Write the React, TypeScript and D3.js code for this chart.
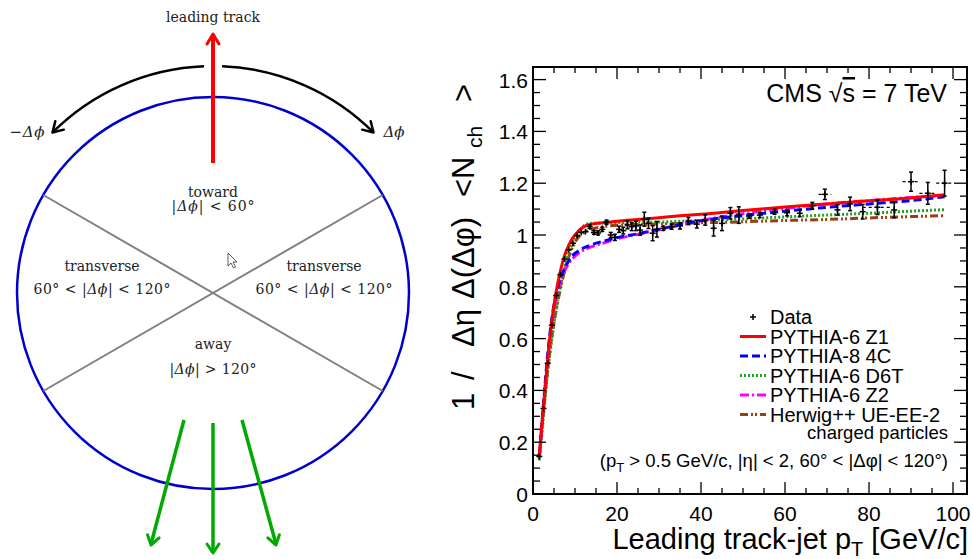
import React from "react";
import * as d3 from "d3";

// ---------- data ----------
const dataX = [1.5, 2.5, 3.5, 4.5, 5.5, 6.5, 7.5, 8.5, 9.5, 10.5, 11.5, 12.5, 13.5, 14.5, 15.5, 16.5, 17.5, 18.5, 19.5, 20.5, 21.5, 22.5, 23.5, 24.5, 25.5, 26.5, 27.5, 28.5, 29.5, 31, 33, 35, 37, 39, 41, 43, 45, 47, 49, 51.5, 54, 57.5, 60.5, 63.5, 66.5, 69.5, 72.5, 75.5, 78.5, 82, 86, 90, 94, 98];
const dataY = [0.145, 0.33, 0.505, 0.652, 0.766, 0.847, 0.907, 0.943, 0.968, 0.998, 1.01, 1.013, 1.032, 1.01, 1.008, 1.022, 1.049, 1.0, 0.991, 1.022, 1.017, 1.039, 1.032, 1.035, 1.019, 1.061, 1.045, 1.007, 1.022, 1.026, 1.032, 1.035, 1.054, 1.042, 1.058, 1.026, 1.045, 1.084, 1.077, 1.073, 1.077, 1.09, 1.086, 1.084, 1.113, 1.157, 1.097, 1.12, 1.09, 1.107, 1.097, 1.206, 1.161, 1.2];
const dataErr = [0.004, 0.004, 0.004, 0.004, 0.004, 0.004, 0.004, 0.005, 0.005, 0.005, 0.005, 0.006, 0.007, 0.007, 0.008, 0.008, 0.008, 0.01, 0.012, 0.012, 0.013, 0.015, 0.015, 0.018, 0.02, 0.027, 0.02, 0.029, 0.03, 0.008, 0.01, 0.012, 0.014, 0.015, 0.02, 0.03, 0.028, 0.022, 0.032, 0.008, 0.01, 0.01, 0.012, 0.013, 0.013, 0.02, 0.02, 0.026, 0.028, 0.028, 0.03, 0.037, 0.042, 0.05];
const dataXErr = [0, 0, 0, 0, 0, 0, 0, 0, 0, 0, 0, 0, 0, 0, 0, 0, 0, 0, 0, 0, 0, 0, 0, 0, 0, 0, 0, 0, 0, 0, 0, 0, 0, 0, 0, 0, 0, 0, 0, 0, 0, 0, 0, 0, 0, 1.5, 0, 0, 0, 3.5, 0, 2, 2, 2];

const modelX = [1.5, 2.5, 3.5, 4.5, 5.5, 6.5, 7.5, 8.5, 9.5, 10.5, 11.5, 12.5, 14, 17, 20, 25, 30, 35, 40, 50, 60, 70, 80, 90, 98];
const z1Y = [0.15, 0.34, 0.52, 0.67, 0.78, 0.86, 0.92, 0.96, 0.99, 1.01, 1.025, 1.035, 1.042, 1.048, 1.053, 1.06, 1.067, 1.074, 1.08, 1.095, 1.108, 1.12, 1.132, 1.143, 1.155];
const c4Y = [0.15, 0.35, 0.54, 0.68, 0.77, 0.83, 0.87, 0.9, 0.922, 0.935, 0.946, 0.953, 0.963, 0.977, 0.99, 1.005, 1.022, 1.04, 1.055, 1.075, 1.092, 1.107, 1.12, 1.133, 1.148];
const d6tY = [0.13, 0.3, 0.47, 0.6, 0.71, 0.8, 0.87, 0.93, 0.97, 1.0, 1.025, 1.04, 1.045, 1.047, 1.048, 1.049, 1.05, 1.053, 1.056, 1.062, 1.07, 1.077, 1.084, 1.092, 1.098];
const z2Y = [0.14, 0.34, 0.52, 0.66, 0.76, 0.82, 0.86, 0.89, 0.91, 0.925, 0.937, 0.945, 0.955, 0.97, 0.985, 1.003, 1.02, 1.038, 1.056, 1.082, 1.103, 1.12, 1.133, 1.145, 1.153];
const herwigY = [0.14, 0.32, 0.48, 0.61, 0.71, 0.79, 0.86, 0.915, 0.955, 0.985, 1.003, 1.013, 1.023, 1.033, 1.038, 1.041, 1.043, 1.045, 1.047, 1.051, 1.056, 1.06, 1.066, 1.071, 1.075];

const xTicks = [0, 20, 40, 60, 80, 100];
const yTicks = [0, 0.2, 0.4, 0.6, 0.8, 1, 1.2, 1.4, 1.6];
const yTickLabels = ["0", "0.2", "0.4", "0.6", "0.8", "1", "1.2", "1.4", "1.6"];

const seriesNames = ["PYTHIA-6 Z1", "PYTHIA-8 4C", "PYTHIA-6 D6T", "PYTHIA-6 Z2", "Herwig++ UE-EE-2"];
const seriesColors = ["#ff0000", "#0000ff", "#22a022", "#ff00ff", "#9a4010"];
const seriesDash = ["", "8,4", "2,2", "9,3,2,3", "8,3,2,2,2,3"];
const seriesY = [z1Y, c4Y, d6tY, z2Y, herwigY];

// ---------- layout ----------
const PL = 533, PR = 967, PT = 67, PB = 494;
const sans = "Liberation Sans, Arial, sans-serif";
const serif = "DejaVu Serif, serif";

function arrowHead(tipX: number, tipY: number, angle: number, len: number, half: number) {
  const bx = tipX - len * Math.cos(angle);
  const by = tipY - len * Math.sin(angle);
  const px = -Math.sin(angle), py = Math.cos(angle);
  return `M${bx + px * half},${by + py * half} L${tipX},${tipY} L${bx - px * half},${by - py * half}`;
}

function Diagram() {
  const cx = 213, cy = 293, r = 196;
  const ang = Math.PI / 6;
  const lx = r * Math.cos(ang), ly = r * Math.sin(ang);
  const ar = 227;
  const a0R = Math.atan2(-227, 9), a1R = -Math.PI / 4;
  const a0L = Math.atan2(-227, -9), a1L = -3 * Math.PI / 4;
  const pt = (a: number) => [cx + ar * Math.cos(a), cy + ar * Math.sin(a)];
  const [rsx, rsy] = pt(a0R), [rex, rey] = pt(a1R);
  const [lsx, lsy] = pt(a0L), [lex, ley] = pt(a1L);
  const green = "#00aa00";
  const greenArrows = [
    [184, 420, 151, 544],
    [213, 423, 213, 552],
    [242, 420, 276, 544],
  ];
  const mathT = (parts: [string, boolean][]) =>
    parts.map((p, i) => (
      <tspan key={i} fontStyle={p[1] ? "italic" : "normal"}>{p[0]}</tspan>
    ));
  const tcol = "#222";
  return (
    <g fontFamily={serif} fill={tcol}>
      <circle cx={cx} cy={cy} r={r} fill="none" stroke="#0000cc" strokeWidth={2.5} />
      <line x1={cx - lx} y1={cy - ly} x2={cx + lx} y2={cy + ly} stroke="#808080" strokeWidth={2} />
      <line x1={cx - lx} y1={cy + ly} x2={cx + lx} y2={cy - ly} stroke="#808080" strokeWidth={2} />
      {/* leading track arrow */}
      <line x1={cx} y1={163} x2={cx} y2={36} stroke="#ff0000" strokeWidth={4} />
      <path d={arrowHead(cx, 34, -Math.PI / 2, 10, 6)} fill="none" stroke="#ff0000" strokeWidth={3} strokeLinecap="round" strokeLinejoin="round" />
      <text x={cx} y={22} textAnchor="middle" fontSize={14}>leading track</text>
      {/* delta phi arcs */}
      <path d={`M${rsx},${rsy} A${ar},${ar} 0 0 1 ${rex},${rey}`} fill="none" stroke="#000" strokeWidth={2.5} />
      <path d={arrowHead(rex, rey, a1R + Math.PI / 2, 10, 6)} fill="none" stroke="#000" strokeWidth={2.5} strokeLinecap="round" strokeLinejoin="round" />
      <path d={`M${lsx},${lsy} A${ar},${ar} 0 0 0 ${lex},${ley}`} fill="none" stroke="#000" strokeWidth={2.5} />
      <path d={arrowHead(lex, ley, a1L - Math.PI / 2, 10, 6)} fill="none" stroke="#000" strokeWidth={2.5} strokeLinecap="round" strokeLinejoin="round" />
      <text x={27} y={137} textAnchor="middle" fontSize={15} textLength={35} lengthAdjust="spacing">{mathT([["\u2212", false], ["\u0394\u03d5", true]])}</text>
      <text x={394} y={137} textAnchor="middle" fontSize={15}>{mathT([["\u0394\u03d5", true]])}</text>
      {/* region labels */}
      <text x={cx} y={197} textAnchor="middle" fontSize={14}>toward</text>
      <text x={cx} y={211} textAnchor="middle" fontSize={14} textLength={83} lengthAdjust="spacing">{mathT([["|", false], ["\u0394\u03d5", true], ["| < 60\u00b0", false]])}</text>
      <text x={102} y={271} textAnchor="middle" fontSize={14}>transverse</text>
      <text x={102} y={294} textAnchor="middle" fontSize={14} textLength={137} lengthAdjust="spacing">{mathT([["60\u00b0 < |", false], ["\u0394\u03d5", true], ["| < 120\u00b0", false]])}</text>
      <text x={324} y={271} textAnchor="middle" fontSize={14}>transverse</text>
      <text x={324} y={294} textAnchor="middle" fontSize={14} textLength={137} lengthAdjust="spacing">{mathT([["60\u00b0 < |", false], ["\u0394\u03d5", true], ["| < 120\u00b0", false]])}</text>
      <text x={cx} y={349} textAnchor="middle" fontSize={14}>away</text>
      <text x={cx} y={374} textAnchor="middle" fontSize={14} textLength={87} lengthAdjust="spacing">{mathT([["|", false], ["\u0394\u03d5", true], ["| > 120\u00b0", false]])}</text>
      {/* cursor */}
      <path d="M228,253 L228,266 L231,263 L233.5,268 L235.5,267 L233,262 L237,262 Z" fill="#fff" stroke="#333" strokeWidth={0.8} />
      {/* away-side arrows */}
      {greenArrows.map((a, i) => {
        const angle = Math.atan2(a[3] - a[1], a[2] - a[0]);
        return (
          <g key={i}>
            <line x1={a[0]} y1={a[1]} x2={a[2]} y2={a[3]} stroke={green} strokeWidth={3.5} />
            <path d={arrowHead(a[2], a[3] + 1, angle, 9, 6)} fill="none" stroke={green} strokeWidth={3} strokeLinecap="round" strokeLinejoin="round" />
          </g>
        );
      })}
    </g>
  );
}

function Plot() {
  const x = d3.scaleLinear().domain([0, 103.33]).range([PL, PR]);
  const y = d3.scaleLinear().domain([0, 1.6487]).range([PB, PT]);
  const line = d3.line<[number, number]>().x((d) => x(d[0])).y((d) => y(d[1])).curve(d3.curveMonotoneX);
  const xMinor = d3.range(0, 101, 5);
  const yMinor = d3.range(0, 1.65, 0.05);
  const drawOrder = [4, 2, 3, 1, 0];
  const legendY0 = 317, legendStep = 19.5;
  return (
    <g>
      <defs>
        <clipPath id="plotclip">
          <rect x={PL} y={PT} width={PR - PL} height={PB - PT} />
        </clipPath>
      </defs>
      {/* model curves */}
      <g clipPath="url(#plotclip)">
        {drawOrder.map((si) => (
          <path
            key={si}
            d={line(modelX.map((v, i) => [v, seriesY[si][i]]) as [number, number][]) || ""}
            fill="none"
            stroke={seriesColors[si]}
            strokeWidth={3}
            strokeDasharray={seriesDash[si] || undefined}
          />
        ))}
        {/* data */}
        {dataX.map((xv, i) => {
          const px = x(xv), py = y(dataY[i]);
          const e1 = y(dataY[i] + dataErr[i]), e2 = y(dataY[i] - dataErr[i]);
          return (
            <g key={i} stroke="#000">
              {dataXErr[i] > 0 && (
                <line x1={x(xv - dataXErr[i])} x2={x(xv + dataXErr[i])} y1={py} y2={py} strokeWidth={1.2} strokeDasharray="3,3" />
              )}
              <line x1={px} x2={px} y1={e1} y2={e2} strokeWidth={1.5} />
              {dataErr[i] > 0.006 && (
                <>
                  <line x1={px - 2} x2={px + 2} y1={e1} y2={e1} strokeWidth={1.5} />
                  <line x1={px - 2} x2={px + 2} y1={e2} y2={e2} strokeWidth={1.5} />
                </>
              )}
              <line x1={px - 3} x2={px + 3} y1={py} y2={py} strokeWidth={1.5} />
              <line x1={px} x2={px} y1={py - 3} y2={py + 3} strokeWidth={1.5} />
            </g>
          );
        })}
      </g>
      {/* frame */}
      <rect x={PL} y={PT} width={PR - PL} height={PB - PT} fill="none" stroke="#000" strokeWidth={2} />
      {/* ticks */}
      <g stroke="#000" strokeWidth={1.3}>
        {xMinor.map((t) => {
          const major = t % 20 === 0;
          const L = major ? 12 : 6;
          return (
            <g key={"x" + t}>
              <line x1={x(t)} x2={x(t)} y1={PB} y2={PB - L} />
              <line x1={x(t)} x2={x(t)} y1={PT} y2={PT + L} />
            </g>
          );
        })}
        {yMinor.map((t, i) => {
          const major = i % 4 === 0;
          const L = major ? 13 : 7;
          return (
            <g key={"y" + i}>
              <line x1={PL} x2={PL + L} y1={y(t)} y2={y(t)} />
              <line x1={PR} x2={PR - L} y1={y(t)} y2={y(t)} />
            </g>
          );
        })}
      </g>
      {/* tick labels */}
      {xTicks.map((t) => (
        <text key={"xl" + t} x={x(t)} y={521} textAnchor="middle" fontFamily={sans} fontSize={21} fill="#000">{t}</text>
      ))}
      {yTicks.map((t, i) => (
        <text key={"yl" + t} x={528} y={y(t) + 8} textAnchor="end" fontFamily={sans} fontSize={21} fill="#000">{yTickLabels[i]}</text>
      ))}
      {/* axis titles */}
      <text x={968} y={549} textAnchor="end" fontFamily={sans} fontSize={29} fill="#000">
        Leading track-jet p<tspan dy={7} fontSize={20}>T</tspan><tspan dy={-7}> [GeV/c]</tspan>
      </text>
      <g transform="translate(474,410) rotate(-90)" fontFamily={sans} fontSize={31} fill="#000">
        <text x={0} y={0}>1</text>
        <text x={30} y={0}>/</text>
        <text x={63} y={0}>{"\u0394\u03b7"}</text>
        <text x={111} y={0}>{"\u0394(\u0394\u03c6)"}</text>
        <text x={213} y={0}>{"<N"}</text>
        <text x={262} y={8} fontSize={21}>ch</text>
        <text x={308} y={0}>{">"}</text>
      </g>
      {/* CMS label */}
      <text x={947} y={102} textAnchor="end" fontFamily={sans} fontSize={25} fill="#000">
        CMS {"\u221a"}<tspan textDecoration="overline">s</tspan> = 7 TeV
      </text>
      {/* legend */}
      <g stroke="#000" strokeWidth={1.5}>
        <line x1={750} x2={756} y1={legendY0} y2={legendY0} />
        <line x1={753} x2={753} y1={legendY0 - 3} y2={legendY0 + 3} />
      </g>
      <text x={770} y={legendY0 + 7} fontFamily={sans} fontSize={20} fill="#000">Data</text>
      {seriesNames.map((n, i) => {
        const ly = legendY0 + legendStep * (i + 1);
        return (
          <g key={n}>
            <line x1={740} x2={766} y1={ly} y2={ly} stroke={seriesColors[i]} strokeWidth={3} strokeDasharray={seriesDash[i] || undefined} />
            <text x={770} y={ly + 7} fontFamily={sans} fontSize={20} fill="#000">{n}</text>
          </g>
        );
      })}
      <text x={948} y={439} textAnchor="end" fontFamily={sans} fontSize={18.5} fill="#000">charged particles</text>
      <text x={948} y={467} textAnchor="end" fontFamily={sans} fontSize={18.5} fill="#000">
        (p<tspan dy={5} fontSize={13}>T</tspan><tspan dy={-5}> {">"} 0.5 GeV/c, |{"\u03b7"}| {"<"} 2, 60{"\u00b0"} {"<"} |{"\u0394\u03c6"}| {"<"} 120{"\u00b0"})</tspan>
      </text>
    </g>
  );
}

export default function App() {
  return (
    <svg width={973} height={559} viewBox="0 0 973 559" style={{ position: "absolute", left: 0, top: 0, background: "#fff" }}>
      <rect width={973} height={559} fill="#fff" />
      <Diagram />
      <Plot />
    </svg>
  );
}
